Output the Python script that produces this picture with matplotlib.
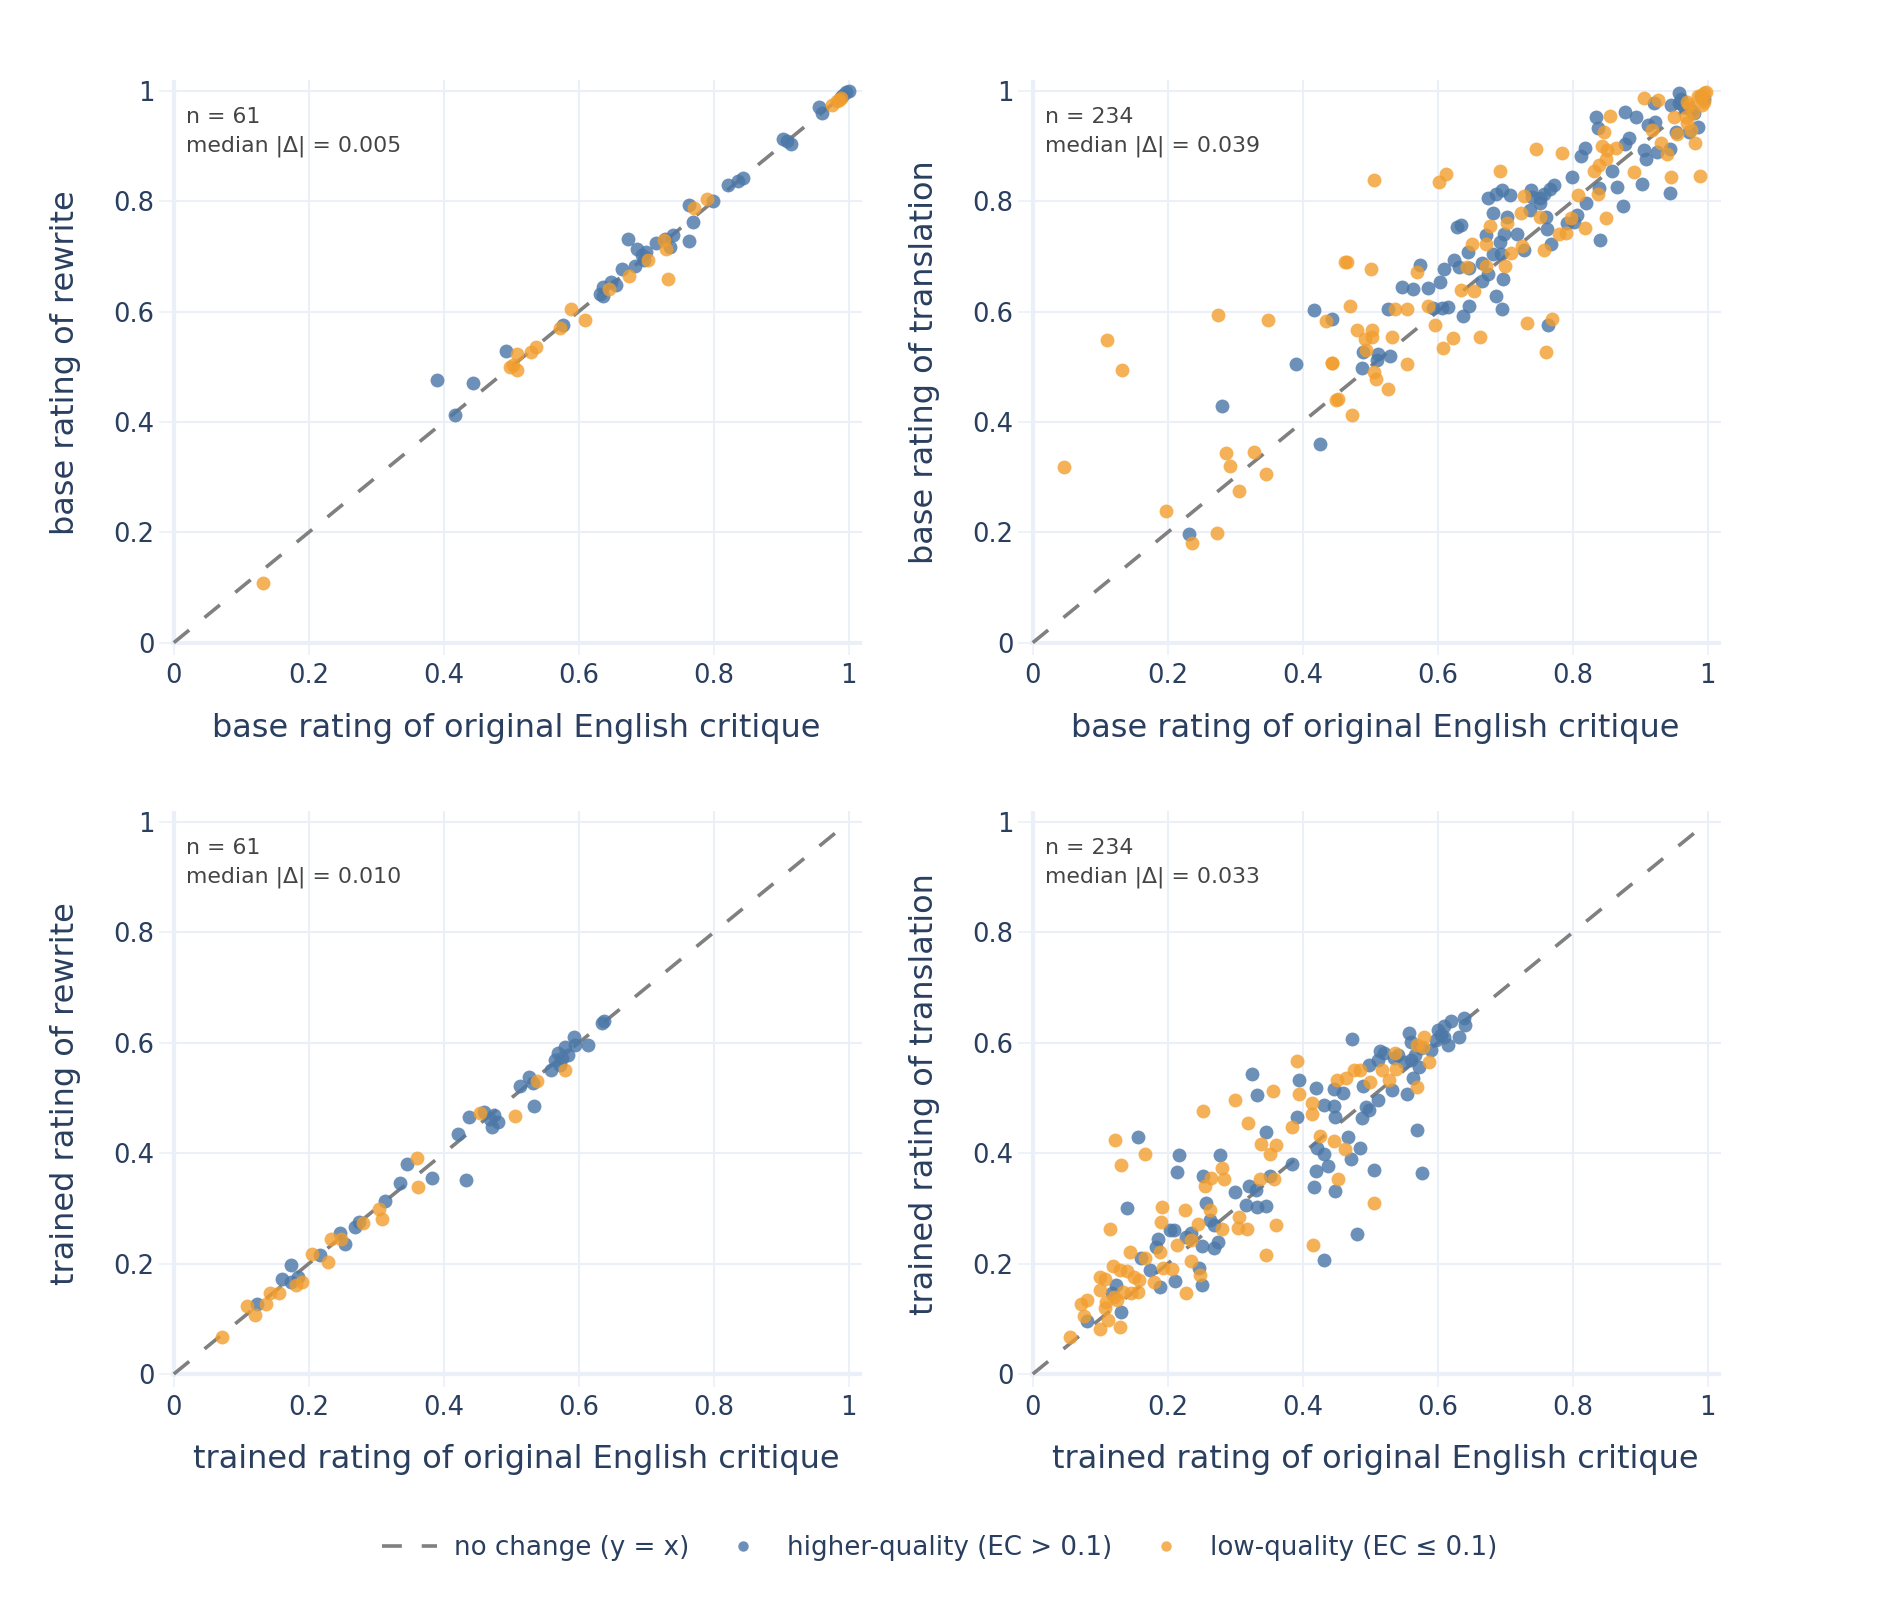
import matplotlib.pyplot as plt
from matplotlib.lines import Line2D
import numpy as np

# ---- data ----
# top left: base rating, rewrite
tl_hi_x = [0.390, 0.444, 0.417, 0.492, 0.576, 0.632, 0.636, 0.636, 0.648, 0.664, 0.673, 0.683, 0.687,
           0.694, 0.697, 0.714, 0.728, 0.736, 0.740, 0.763, 0.764, 0.769, 0.799, 0.821, 0.836, 0.843,
           0.902, 0.908, 0.914, 0.956, 0.961, 0.989, 0.992, 0.996, 1.000, 0.700, 0.655]
tl_hi_y = [0.475, 0.470, 0.412, 0.529, 0.576, 0.631, 0.644, 0.628, 0.653, 0.677, 0.731, 0.683, 0.713,
           0.702, 0.693, 0.725, 0.732, 0.716, 0.738, 0.793, 0.728, 0.762, 0.800, 0.830, 0.836, 0.842,
           0.912, 0.908, 0.903, 0.971, 0.959, 0.989, 0.993, 0.998, 1.000, 0.708, 0.648]
tl_lo_x = [0.132, 0.498, 0.503, 0.509, 0.509, 0.530, 0.536, 0.572, 0.588, 0.610, 0.645, 0.674, 0.703,
           0.726, 0.730, 0.732, 0.771, 0.790, 0.975, 0.982, 0.988, 0.985]
tl_lo_y = [0.109, 0.499, 0.503, 0.494, 0.523, 0.527, 0.536, 0.570, 0.604, 0.584, 0.640, 0.665, 0.694,
           0.730, 0.714, 0.658, 0.788, 0.804, 0.975, 0.982, 0.986, 0.984]

# top right: base rating, translation
tr_hi_x = [0.957, 0.946, 0.958, 0.920, 0.877, 0.894, 0.835, 0.837, 0.911, 0.922, 0.883, 0.878, 0.819,
           0.813, 0.906, 0.908, 0.925, 0.944, 0.980, 0.985, 0.973, 0.965, 0.953, 0.858, 0.799, 0.865,
           0.902, 0.944, 0.874, 0.841, 0.772, 0.766, 0.757, 0.752, 0.738, 0.740, 0.751, 0.696, 0.686,
           0.675, 0.707, 0.682, 0.702, 0.629, 0.635, 0.737, 0.761, 0.762, 0.792, 0.802, 0.807, 0.820,
           0.839, 0.717, 0.672, 0.693, 0.698, 0.694, 0.728, 0.768, 0.645, 0.682, 0.624, 0.609, 0.604,
           0.574, 0.632, 0.647, 0.666, 0.674, 0.697, 0.665, 0.547, 0.564, 0.586, 0.687, 0.696, 0.647,
           0.637, 0.606, 0.616, 0.593, 0.527, 0.764, 0.443, 0.490, 0.510, 0.530, 0.488, 0.512, 0.416,
           0.390, 0.281, 0.426, 0.232, 0.990, 0.995, 0.975, 0.960]
tr_hi_y = [0.995, 0.974, 0.977, 0.977, 0.961, 0.952, 0.952, 0.932, 0.938, 0.944, 0.914, 0.903, 0.897,
           0.882, 0.892, 0.877, 0.889, 0.894, 0.959, 0.935, 0.926, 0.971, 0.926, 0.854, 0.844, 0.826,
           0.831, 0.815, 0.792, 0.729, 0.829, 0.822, 0.813, 0.805, 0.820, 0.808, 0.797, 0.820, 0.813,
           0.806, 0.811, 0.778, 0.772, 0.753, 0.757, 0.784, 0.772, 0.749, 0.760, 0.763, 0.775, 0.796,
           0.823, 0.741, 0.738, 0.726, 0.741, 0.705, 0.711, 0.723, 0.708, 0.705, 0.694, 0.677, 0.654,
           0.685, 0.681, 0.678, 0.688, 0.668, 0.658, 0.655, 0.644, 0.640, 0.642, 0.628, 0.604, 0.610,
           0.592, 0.607, 0.608, 0.607, 0.604, 0.575, 0.587, 0.527, 0.512, 0.520, 0.497, 0.523, 0.602,
           0.505, 0.428, 0.360, 0.196, 0.990, 0.985, 0.965, 0.985]
tr_lo_x = [0.906, 0.927, 0.995, 0.998, 0.990, 0.969, 0.973, 0.950, 0.968, 0.969, 0.954, 0.975, 0.982,
           0.994, 0.855, 0.847, 0.918, 0.931, 0.940, 0.844, 0.851, 0.864, 0.850, 0.839, 0.832, 0.746,
           0.784, 0.692, 0.613, 0.602, 0.506, 0.891, 0.946, 0.988, 0.838, 0.808, 0.728, 0.724, 0.751,
           0.703, 0.678, 0.797, 0.819, 0.850, 0.790, 0.780, 0.651, 0.672, 0.708, 0.725, 0.757, 0.569,
           0.643, 0.672, 0.700, 0.462, 0.501, 0.634, 0.654, 0.470, 0.537, 0.555, 0.586, 0.596, 0.732,
           0.769, 0.760, 0.481, 0.502, 0.492, 0.503, 0.533, 0.623, 0.663, 0.608, 0.494, 0.443, 0.555,
           0.506, 0.508, 0.527, 0.450, 0.473, 0.046, 0.110, 0.132, 0.275, 0.348, 0.434, 0.287, 0.292,
           0.328, 0.345, 0.305, 0.197, 0.273, 0.236, 0.444, 0.465, 0.452, 0.985, 0.992, 0.978]
tr_lo_y = [0.986, 0.984, 0.995, 0.998, 0.989, 0.980, 0.974, 0.953, 0.953, 0.941, 0.921, 0.929, 0.906,
           0.980, 0.954, 0.926, 0.929, 0.905, 0.885, 0.899, 0.892, 0.897, 0.877, 0.865, 0.855, 0.894,
           0.888, 0.854, 0.850, 0.835, 0.839, 0.853, 0.844, 0.845, 0.813, 0.811, 0.810, 0.778, 0.772,
           0.761, 0.755, 0.769, 0.752, 0.770, 0.743, 0.740, 0.723, 0.723, 0.706, 0.718, 0.712, 0.672,
           0.680, 0.682, 0.683, 0.689, 0.677, 0.639, 0.637, 0.610, 0.604, 0.605, 0.610, 0.576, 0.580,
           0.587, 0.526, 0.567, 0.566, 0.551, 0.554, 0.554, 0.552, 0.553, 0.533, 0.530, 0.506, 0.505,
           0.491, 0.477, 0.459, 0.440, 0.412, 0.318, 0.549, 0.494, 0.594, 0.584, 0.582, 0.344, 0.320,
           0.346, 0.305, 0.275, 0.239, 0.198, 0.181, 0.506, 0.689, 0.441, 0.990, 0.975, 0.960]

# bottom left: trained rating, rewrite
bl_hi_x = [0.637, 0.634, 0.593, 0.614, 0.595, 0.579, 0.570, 0.584, 0.565, 0.573, 0.559, 0.527, 0.513,
           0.532, 0.534, 0.437, 0.459, 0.474, 0.481, 0.472, 0.421, 0.346, 0.335, 0.382, 0.433, 0.313,
           0.274, 0.268, 0.247, 0.254, 0.216, 0.174, 0.161, 0.184, 0.173, 0.123, 0.575, 0.468]
bl_hi_y = [0.640, 0.636, 0.611, 0.596, 0.596, 0.593, 0.581, 0.578, 0.569, 0.560, 0.551, 0.538, 0.521,
           0.527, 0.485, 0.466, 0.474, 0.469, 0.457, 0.448, 0.434, 0.380, 0.347, 0.356, 0.352, 0.314,
           0.276, 0.267, 0.255, 0.236, 0.216, 0.197, 0.172, 0.176, 0.166, 0.126, 0.572, 0.462]
bl_lo_x = [0.579, 0.538, 0.506, 0.453, 0.361, 0.362, 0.304, 0.308, 0.281, 0.233, 0.248, 0.205, 0.228,
           0.190, 0.181, 0.156, 0.143, 0.137, 0.108, 0.120, 0.071]
bl_lo_y = [0.550, 0.531, 0.468, 0.473, 0.392, 0.338, 0.299, 0.280, 0.273, 0.245, 0.245, 0.218, 0.203,
           0.167, 0.161, 0.146, 0.146, 0.127, 0.124, 0.107, 0.068]

# bottom right: trained rating, translation
br_hi_x = [0.639, 0.640, 0.632, 0.620, 0.610, 0.600, 0.610, 0.598, 0.615, 0.558, 0.561, 0.590, 0.566,
           0.561, 0.573, 0.563, 0.555, 0.570, 0.577, 0.473, 0.515, 0.521, 0.511, 0.498, 0.536, 0.541,
           0.532, 0.511, 0.490, 0.494, 0.498, 0.488, 0.447, 0.459, 0.431, 0.447, 0.448, 0.419, 0.394,
           0.392, 0.467, 0.421, 0.432, 0.437, 0.420, 0.417, 0.448, 0.472, 0.485, 0.505, 0.481, 0.432,
           0.384, 0.325, 0.333, 0.346, 0.352, 0.321, 0.331, 0.316, 0.333, 0.346, 0.299, 0.277, 0.217,
           0.214, 0.252, 0.257, 0.262, 0.268, 0.275, 0.268, 0.251, 0.156, 0.140, 0.185, 0.183, 0.203,
           0.209, 0.227, 0.235, 0.160, 0.173, 0.189, 0.211, 0.247, 0.251, 0.124, 0.118, 0.131, 0.081,
           0.605, 0.575, 0.550]
br_hi_y = [0.645, 0.633, 0.611, 0.639, 0.630, 0.624, 0.611, 0.605, 0.596, 0.618, 0.602, 0.587, 0.578,
           0.569, 0.557, 0.536, 0.507, 0.442, 0.365, 0.607, 0.586, 0.581, 0.569, 0.560, 0.573, 0.578,
           0.515, 0.497, 0.521, 0.483, 0.479, 0.463, 0.516, 0.509, 0.488, 0.485, 0.465, 0.518, 0.532,
           0.465, 0.430, 0.409, 0.398, 0.377, 0.367, 0.338, 0.331, 0.389, 0.409, 0.370, 0.254, 0.206,
           0.380, 0.543, 0.506, 0.439, 0.358, 0.340, 0.334, 0.306, 0.303, 0.305, 0.329, 0.397, 0.397,
           0.366, 0.358, 0.309, 0.279, 0.270, 0.239, 0.228, 0.232, 0.430, 0.301, 0.244, 0.231, 0.261,
           0.261, 0.249, 0.255, 0.210, 0.189, 0.158, 0.169, 0.192, 0.162, 0.161, 0.146, 0.112, 0.096,
           0.615, 0.590, 0.565]
br_lo_x = [0.580, 0.570, 0.578, 0.587, 0.569, 0.537, 0.518, 0.538, 0.528, 0.500, 0.485, 0.476, 0.464,
           0.451, 0.391, 0.394, 0.414, 0.414, 0.384, 0.425, 0.446, 0.463, 0.453, 0.506, 0.415, 0.356,
           0.299, 0.319, 0.253, 0.338, 0.360, 0.351, 0.357, 0.336, 0.360, 0.346, 0.306, 0.304, 0.317,
           0.280, 0.284, 0.264, 0.255, 0.263, 0.245, 0.280, 0.225, 0.191, 0.190, 0.235, 0.248, 0.235,
           0.213, 0.189, 0.227, 0.206, 0.193, 0.180, 0.167, 0.144, 0.122, 0.167, 0.131, 0.114, 0.119,
           0.129, 0.140, 0.150, 0.158, 0.156, 0.146, 0.133, 0.125, 0.099, 0.107, 0.100, 0.081, 0.072,
           0.076, 0.107, 0.111, 0.099, 0.130, 0.055, 0.109, 0.121]
br_lo_y = [0.611, 0.596, 0.593, 0.566, 0.520, 0.582, 0.551, 0.552, 0.533, 0.530, 0.550, 0.550, 0.536,
           0.533, 0.568, 0.507, 0.491, 0.471, 0.447, 0.431, 0.422, 0.408, 0.354, 0.309, 0.234, 0.512,
           0.497, 0.454, 0.476, 0.417, 0.415, 0.398, 0.354, 0.354, 0.270, 0.215, 0.285, 0.264, 0.262,
           0.373, 0.353, 0.355, 0.341, 0.297, 0.271, 0.262, 0.297, 0.303, 0.275, 0.205, 0.179, 0.242,
           0.233, 0.222, 0.146, 0.190, 0.193, 0.167, 0.211, 0.221, 0.424, 0.399, 0.378, 0.262, 0.196,
           0.189, 0.186, 0.176, 0.170, 0.149, 0.146, 0.149, 0.135, 0.176, 0.172, 0.153, 0.134, 0.126,
           0.105, 0.119, 0.098, 0.081, 0.086, 0.068, 0.131, 0.140]

x_titles = ['base rating of original English critique', 'base rating of original English critique',
            'trained rating of original English critique', 'trained rating of original English critique']
y_titles = ['base rating of rewrite', 'base rating of translation',
            'trained rating of rewrite', 'trained rating of translation']
stats_text = ['n = 61\nmedian |\u0394| = 0.005', 'n = 234\nmedian |\u0394| = 0.039',
              'n = 61\nmedian |\u0394| = 0.010', 'n = 234\nmedian |\u0394| = 0.033']
ticks = [0, 0.2, 0.4, 0.6, 0.8, 1.0]
tick_labels = ['0', '0.2', '0.4', '0.6', '0.8', '1']

BLUE = '#4C78A8'
ORANGE = '#F29E2E'
GRID = '#EBF0F8'
TXT = '#2A3F5F'
DASH = (5.5, 5.5)

plt.rcParams['font.family'] = 'DejaVu Sans'

fig = plt.figure(figsize=(18.8, 16), dpi=100)

lefts = [0.0910, 0.5479]
bottoms = [0.5966, 0.1395]
W, H = 0.3676, 0.3536

panels = [(tl_hi_x, tl_hi_y, tl_lo_x, tl_lo_y),
          (tr_hi_x, tr_hi_y, tr_lo_x, tr_lo_y),
          (bl_hi_x, bl_hi_y, bl_lo_x, bl_lo_y),
          (br_hi_x, br_hi_y, br_lo_x, br_lo_y)]

for i, (hx, hy, lx, ly) in enumerate(panels):
    ax = fig.add_axes([lefts[i % 2], bottoms[i // 2], W, H])
    ax.set_xlim(-0.004, 1.02)
    ax.set_ylim(-0.005, 1.02)
    for s in ax.spines.values():
        s.set_visible(False)
    for t in ticks:
        lw = 3.0 if t == 0 else 1.5
        ax.axvline(t, color=GRID, lw=lw, zorder=0)
        ax.axhline(t, color=GRID, lw=lw, zorder=0)
    ax.plot([0, 1], [0, 1], color='#808080', lw=2.6, dashes=DASH, zorder=1)
    ax.scatter(hx, hy, s=100, color=BLUE, alpha=0.82, linewidths=0, zorder=2)
    ax.scatter(lx, ly, s=100, color=ORANGE, alpha=0.8, linewidths=0, zorder=3)

    ax.set_xticks(ticks)
    ax.set_xticklabels(tick_labels)
    ax.set_yticks(ticks)
    ax.set_yticklabels(tick_labels)
    ax.tick_params(axis='x', length=7, width=1.2, color=GRID, pad=6, labelsize=18.6, labelcolor=TXT)
    ax.tick_params(axis='y', length=9, width=1.2, color=GRID, pad=3, labelsize=18.6, labelcolor=TXT)

    ax.set_xlabel(x_titles[i], fontsize=23, color=TXT)
    ax.xaxis.label.set_va('center')
    ax.xaxis.set_label_coords(0.5, -0.147)
    ax.set_ylabel(y_titles[i], fontsize=23, color=TXT)
    ax.yaxis.label.set_va('center')
    ax.yaxis.set_label_coords(-0.153, 0.5)

    ax.text(0.022, 0.952, stats_text[i], transform=ax.transAxes, ha='left', va='top',
            fontsize=15.8, color='#444444', linespacing=1.55)

handles = [Line2D([0], [0], color='#808080', lw=2.6, dashes=DASH),
           Line2D([0], [0], marker='o', ls='none', color=BLUE, alpha=0.82, markersize=7.5, markeredgewidth=0),
           Line2D([0], [0], marker='o', ls='none', color=ORANGE, alpha=0.8, markersize=7.5, markeredgewidth=0)]
labels = ['no change (y = x)', 'higher-quality (EC > 0.1)', 'low-quality (EC \u2264 0.1)']
leg = fig.legend(handles, labels, loc='center', bbox_to_anchor=(0.5, 0.0325), ncol=3, frameon=False,
                 fontsize=18.8, handlelength=2.1, handletextpad=0.65, columnspacing=1.0)
for t in leg.get_texts():
    t.set_color(TXT)

fig.savefig('out.png', dpi=100, facecolor='white')
